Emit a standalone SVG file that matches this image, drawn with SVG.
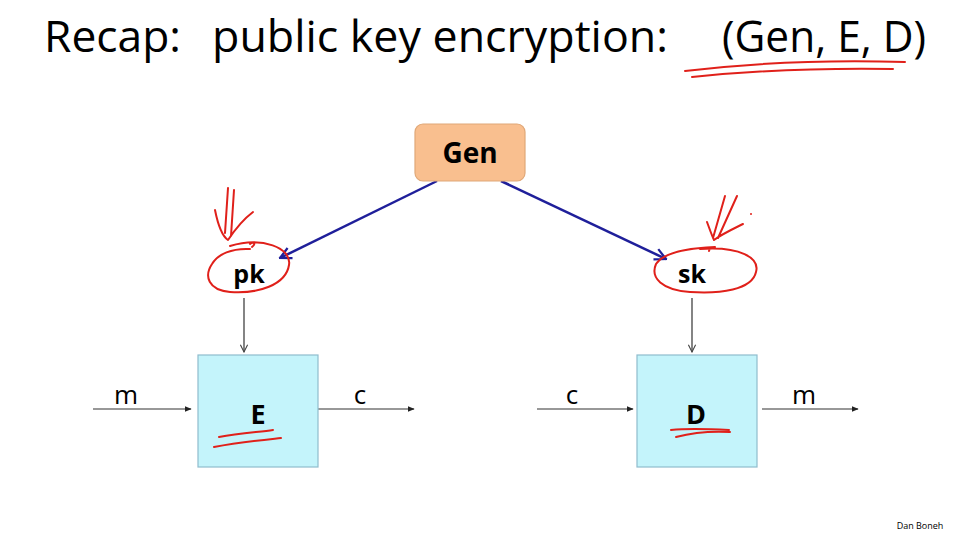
<svg xmlns="http://www.w3.org/2000/svg" width="955" height="534" viewBox="0 0 955 534">
<defs>
<marker id="blk" viewBox="0 0 10 10" refX="9" refY="5" markerWidth="7" markerHeight="7" orient="auto" markerUnits="userSpaceOnUse"><path d="M0,1 L10,5 L0,9 z" fill="#222"/></marker>
<marker id="open" viewBox="0 0 10 10" refX="9" refY="5" markerWidth="9" markerHeight="9" orient="auto" markerUnits="userSpaceOnUse"><path d="M1,1 L9,5 L1,9" fill="none" stroke="#444" stroke-width="1.2"/></marker>
<marker id="blue" viewBox="0 0 10 10" refX="9" refY="5" markerWidth="14" markerHeight="14" orient="auto" markerUnits="userSpaceOnUse"><path d="M1,1 L9,5 L1,9" fill="none" stroke="#1f1f9a" stroke-width="1.6"/></marker>
</defs>
<style>
.t{font-family:"Open Sans","Liberation Sans",sans-serif;fill:#000}
.b{font-weight:bold}
.box{fill:#C4F4FB;stroke:#8FBCCD;stroke-width:1.2}
.ink{fill:none;stroke:#E0201A;stroke-width:2;stroke-linecap:round;stroke-linejoin:round}
.ln{stroke:#333;stroke-width:1.2;fill:none}
.bl{stroke:#1f1f9a;stroke-width:2.5;fill:none}
</style>
<rect width="955" height="534" fill="#fff"/>
<text class="t" x="44" y="52" font-size="44" textLength="137" lengthAdjust="spacingAndGlyphs">Recap:</text>
<text class="t" x="212" y="52" font-size="44" textLength="456" lengthAdjust="spacingAndGlyphs">public key encryption:</text>
<text class="t" x="722" y="52" font-size="44" textLength="204" lengthAdjust="spacingAndGlyphs">(Gen, E, D)</text>
<g id="connectors">
<line class="bl" x1="437" y1="181" x2="280" y2="258" marker-end="url(#blue)"/>
<line class="bl" x1="501" y1="181" x2="666" y2="259" marker-end="url(#blue)"/>
<line class="ln" x1="244" y1="298" x2="244" y2="352" marker-end="url(#open)"/>
<line class="ln" x1="692" y1="298" x2="692" y2="352" marker-end="url(#open)"/>
<line class="ln" x1="93" y1="409" x2="191" y2="409" marker-end="url(#blk)"/>
<line class="ln" x1="318" y1="409" x2="414" y2="409" marker-end="url(#blk)"/>
<line class="ln" x1="537" y1="409" x2="633" y2="409" marker-end="url(#blk)"/>
<line class="ln" x1="762" y1="409" x2="858" y2="409" marker-end="url(#blk)"/>
</g>
<g id="gen">
<rect x="415" y="124" width="110" height="57" rx="8" fill="#F9BF8F" stroke="#E0A878" stroke-width="1.2"/>
<text class="t b" x="470" y="163" font-size="28" text-anchor="middle">Gen</text>
</g>
<g id="pk"><text class="t b" x="249" y="283" font-size="25" text-anchor="middle">pk</text></g>
<g id="sk"><text class="t b" x="692" y="283" font-size="25" text-anchor="middle">sk</text></g>
<g id="E">
<rect class="box" x="198" y="355" width="120" height="112"/>
<text class="t b" x="258" y="424" font-size="27" text-anchor="middle">E</text>
</g>
<g id="D">
<rect class="box" x="637" y="355" width="120" height="112"/>
<text class="t b" x="696" y="424" font-size="27" text-anchor="middle">D</text>
</g>
<g id="labels">
<text class="t" x="126" y="404" font-size="26" text-anchor="middle">m</text>
<text class="t" x="360" y="404" font-size="26" text-anchor="middle">c</text>
<text class="t" x="572" y="404" font-size="26" text-anchor="middle">c</text>
<text class="t" x="804" y="404" font-size="26" text-anchor="middle">m</text>
<text class="t" x="920" y="529" font-size="9" text-anchor="middle" fill="#333">Dan Boneh</text>
</g>
<g id="annotations">
<path class="ink" d="M685,71 C760,62 840,60 905,62"/>
<path class="ink" d="M692,77 C760,70 830,68 893,69"/>
<path class="ink" d="M230,246 C262,236 292,248 289,265 C286,285 258,294 230,292 C208,290 204,276 212,264 C218,254 232,248 250,249 M252,247 C256,244 254,241 250,244"/>
<path class="ink" d="M228,188 L225,233 M234,190 L231,236 M215,210 C218,225 222,236 228,240 C236,228 245,218 253,212"/>
<path class="ink" d="M700,249 C740,246 760,258 756,272 C752,290 720,294 690,292 C662,290 650,278 656,264 C664,252 690,248 715,247 M710,248 L709,251"/>
<path class="ink" d="M725,196 L713,238 M737,196 L718,238 M707,222 C710,230 712,236 714,240 C722,234 735,228 743,224"/>
<circle cx="751" cy="214" r="1" fill="#E0201A"/>
<path class="ink" d="M219,437 C240,433 260,432 273,430"/>
<path class="ink" d="M214,447 C240,442 262,440 281,438"/>
<path class="ink" d="M671,430 C690,428 710,429 729,430"/>
<path class="ink" d="M676,437 C695,432 712,431 730,432"/>
</g>
</svg>
